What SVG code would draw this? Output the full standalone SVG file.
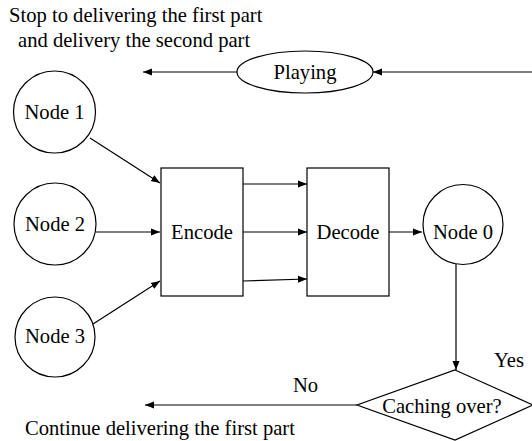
<svg xmlns="http://www.w3.org/2000/svg" width="532" height="441" viewBox="0 0 532 441">
<style>
.s{fill:#fff;stroke:#000;stroke-width:1.2}
.t{font-family:"Liberation Serif","Times New Roman",serif;font-size:20.6px;fill:#000}
.m{text-anchor:middle}
.c{fill:none;stroke:#000;stroke-width:1.2;marker-end:url(#a)}
</style>
<defs>
<marker id="a" markerUnits="userSpaceOnUse" markerWidth="10" markerHeight="8" refX="9" refY="4" orient="auto">
<path d="M0,0.5 L9,4 L0,7.5 Z" fill="#000"/>
</marker>
</defs>
<rect width="532" height="441" fill="#fff"/>
<g id="labels">
<text class="t" x="9" y="22">Stop to delivering the first part</text>
<text class="t" x="18" y="47">and delivery the second part</text>
<text class="t" x="494" y="367">Yes</text>
<text class="t" x="293" y="392">No</text>
<text class="t" x="25" y="435">Continue delivering the first part</text>
</g>
<g id="connectors">
<line class="c" x1="532" y1="72" x2="373" y2="72"/>
<line class="c" x1="237" y1="72" x2="143" y2="72"/>
<line class="c" x1="90" y1="138" x2="160" y2="183"/>
<line class="c" x1="96" y1="232" x2="160" y2="232"/>
<line class="c" x1="93" y1="324" x2="160" y2="281"/>
<line class="c" x1="243" y1="184" x2="307" y2="184"/>
<line class="c" x1="243" y1="232" x2="307" y2="232"/>
<line class="c" x1="243" y1="281" x2="307" y2="279"/>
<line class="c" x1="389" y1="232" x2="422" y2="232"/>
<line class="c" x1="456" y1="264" x2="456" y2="370"/>
<line class="c" x1="357" y1="405" x2="145" y2="405"/>
</g>
<g id="playing">
<ellipse class="s" cx="305" cy="72" rx="68" ry="21"/>
<text class="t m" x="305" y="79">Playing</text>
</g>
<g id="node1">
<circle class="s" cx="54.5" cy="112" r="41"/>
<text class="t m" x="54.5" y="119">Node 1</text>
</g>
<g id="node2">
<circle class="s" cx="55" cy="224" r="41"/>
<text class="t m" x="55" y="231">Node 2</text>
</g>
<g id="node3">
<circle class="s" cx="55" cy="337" r="40"/>
<text class="t m" x="55" y="343">Node 3</text>
</g>
<g id="encode">
<rect class="s" x="161" y="168" width="82" height="128"/>
<text class="t m" x="202" y="239">Encode</text>
</g>
<g id="decode">
<rect class="s" x="307" y="168" width="82" height="128"/>
<text class="t m" x="348" y="239">Decode</text>
</g>
<g id="node0">
<circle class="s" cx="463" cy="224.5" r="40"/>
<text class="t m" x="463" y="239">Node 0</text>
</g>
<g id="caching">
<polygon class="s" points="455,370 533,405 455,440 357,405"/>
<text class="t m" x="442" y="413">Caching over?</text>
</g>
</svg>
